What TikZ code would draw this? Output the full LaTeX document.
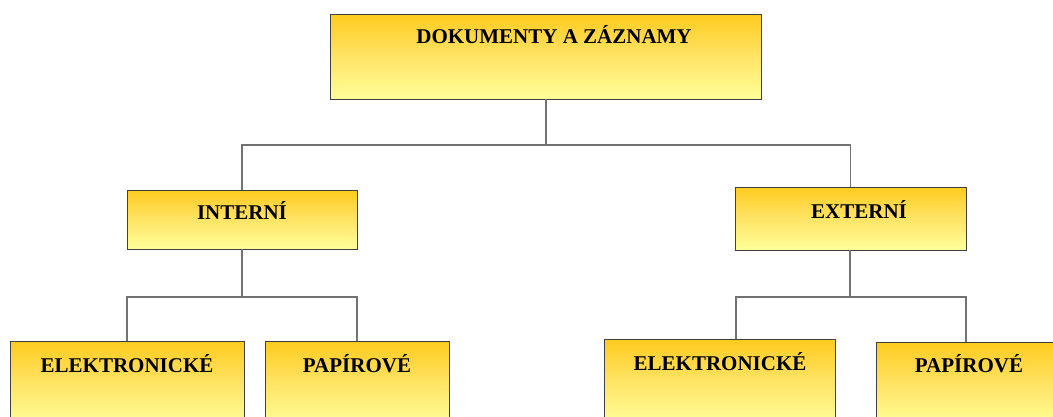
\documentclass[tikz,border=0pt]{standalone}
\usepackage{fontspec}
\setmainfont{Liberation Serif}
\begin{document}
\begin{tikzpicture}[x=1pt,y=-1pt,
  box/.style={draw=black!75, line width=0.9pt, top color=ycTop, bottom color=ycBot, middle color=ycMid, shading angle=0, inner sep=0pt, rectangle},
  lbl/.style={font=\fontsize{21}{24}\selectfont\bfseries, anchor=base, inner sep=0pt, text=black},
  conn/.style={draw=black!55, line width=1.2pt}]
\definecolor{ycTop}{HTML}{FFCB1E}
\definecolor{ycMid}{HTML}{FFE466}
\definecolor{ycBot}{HTML}{FFFF99}
\useasboundingbox (0,0) rectangle (1053,416);
\clip (0,0) rectangle (1053,416);
\fill[white] (0,0) rectangle (1053,416);
% boxes
\node[box, minimum width=431pt, minimum height=85pt] (top) at (545.5,56.5) {};
\node[box, minimum width=230pt, minimum height=59pt] (int) at (242,219.5) {};
\node[box, minimum width=231pt, minimum height=63pt] (ext) at (850.5,218.5) {};
\node[box, minimum width=234pt, minimum height=85pt] (ie) at (127,383.5) {};
\node[box, minimum width=184pt, minimum height=85pt] (ip) at (357,383.5) {};
\node[box, minimum width=231pt, minimum height=85pt] (ee) at (719.5,381.5) {};
\node[box, minimum width=190pt, minimum height=85pt] (ep) at (971,384.5) {};
% labels
\node[lbl] (ttop) at (554,43) {DOKUMENTY A ZÁZNAMY};
\node[lbl] (tint) at (242,219) {INTERNÍ};
\node[lbl] (text) at (859,218.7) {EXTERNÍ};
\node[lbl] (tie) at (127,372.7) {ELEKTRONICKÉ};
\node[lbl] (tip) at (357,372.7) {PAPÍROVÉ};
\node[lbl] (tee) at (720,370.7) {ELEKTRONICKÉ};
\node[lbl] (tep) at (969,372.7) {PAPÍROVÉ};
% connector coordinates
\coordinate (j1) at (546,145);
\coordinate (j2) at (242,297);
\coordinate (j3) at (850,297);
\coordinate (eeIn) at (736,339);
\coordinate (epIn) at (966,342);
% connectors
\draw[conn] (top.south -| j1) -- (j1);
\draw[conn] (int.north) |- (j1) -| (ext.north);
\draw[conn] (int.south) -- (j2);
\draw[conn] (ie.north) |- (j2) -| (ip.north);
\draw[conn] (ext.south -| j3) -- (j3);
\draw[conn] (eeIn) |- (j3) -| (epIn);
\end{tikzpicture}
\end{document}
